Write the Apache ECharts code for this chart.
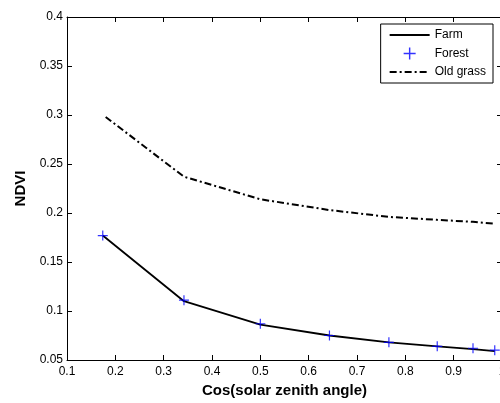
<!DOCTYPE html>
<html><head><meta charset="utf-8">
<script src="https://cdn.jsdelivr.net/npm/echarts@6/dist/echarts.min.js"></script>
<style>html,body{margin:0;padding:0;background:#fff}#c{width:500px;height:403px}</style>
</head><body><div id="c"></div>
<script>
const cosZenith = [0.174, 0.342, 0.5, 0.643, 0.766, 0.866, 0.94, 0.985];
const farm = [0.177, 0.110, 0.086, 0.075, 0.068, 0.064, 0.061, 0.059];
const forest = [0.177, 0.111, 0.087, 0.075, 0.068, 0.064, 0.062, 0.060];
const oldGrassX = [0.18, 0.342, 0.5, 0.643, 0.766, 0.866, 0.94, 0.985];
const oldGrass = [0.298, 0.237, 0.214, 0.203, 0.196, 0.193, 0.191, 0.189];
const seriesNames = ['Farm', 'Forest', 'Old grass'];

const font = 'Liberation Sans, Arial, sans-serif';
const pair = (xs, ys) => xs.map((x, i) => [x, ys[i]]);
const plus = 'path://M4.4,0h1.2v4.4h4.4v1.2h-4.4v4.4h-1.2v-4.4h-4.4v-1.2h4.4z';

const axisCommon = {
  axisLine: {show: true, onZero: false, lineStyle: {color: '#000', width: 1}},
  axisTick: {show: true, inside: true, length: 5, lineStyle: {color: '#000'}},
  splitLine: {show: false}
};

const chart = echarts.init(document.getElementById('c'), null, {renderer: 'canvas'});
chart.setOption({
  animation: false,
  backgroundColor: '#fff',
  grid: {left: 67, top: 17, width: 435, height: 343, containLabel: false, outerBoundsMode: 'none'},
  xAxis: [
    Object.assign({type: 'value', min: 0.1, max: 1, interval: 0.1, position: 'bottom',
      name: 'Cos(solar zenith angle)', nameLocation: 'middle', nameGap: 22,
      nameTextStyle: {color: '#000', fontFamily: font, fontSize: 15, fontWeight: 'bold'},
      axisLabel: {color: '#000', fontFamily: font, fontSize: 12, margin: 6,
        formatter: v => String(Math.round(v * 10) / 10)}}, axisCommon),
    Object.assign({type: 'value', min: 0.1, max: 1, interval: 0.1, position: 'top',
      axisLabel: {show: false}}, axisCommon)
  ],
  yAxis: [
    Object.assign({type: 'value', min: 0.05, max: 0.4, interval: 0.05, position: 'left',
      name: 'NDVI', nameLocation: 'middle', nameGap: 35,
      nameTextStyle: {color: '#000', fontFamily: font, fontSize: 15, fontWeight: 'bold'},
      axisLabel: {color: '#000', fontFamily: font, fontSize: 12, margin: 4,
        formatter: v => String(Math.round(v * 100) / 100)}}, axisCommon),
    Object.assign({type: 'value', min: 0.05, max: 0.4, interval: 0.05, position: 'right',
      axisLabel: {show: false}}, axisCommon)
  ],
  legend: {
    orient: 'vertical', right: 7, top: 24,
    data: [
      {name: 'Farm', itemStyle: {opacity: 0}},
      {name: 'Forest'},
      {name: 'Old grass', itemStyle: {opacity: 0}}
    ],
    backgroundColor: '#fff', borderColor: '#000', borderWidth: 1,
    padding: [5, 7, 5, 8], itemGap: 6.5, itemWidth: 40, itemHeight: 12,
    textStyle: {color: '#000', fontFamily: font, fontSize: 12}
  },
  series: [
    {name: 'Farm', type: 'line', data: pair(cosZenith, farm), showSymbol: false, symbol: 'none',
      lineStyle: {color: '#000', width: 1.8}, itemStyle: {color: '#000'}, z: 2},
    {name: 'Forest', type: 'scatter', data: pair(cosZenith, forest), symbol: plus, symbolSize: 10,
      itemStyle: {color: '#0000ff'}, z: 3},
    {name: 'Old grass', type: 'line', data: pair(oldGrassX, oldGrass), showSymbol: false, symbol: 'none',
      lineStyle: {color: '#000', width: 2, type: [7, 3, 2, 3]}, itemStyle: {color: '#000'}, z: 2}
  ]
});
</script></body></html>
